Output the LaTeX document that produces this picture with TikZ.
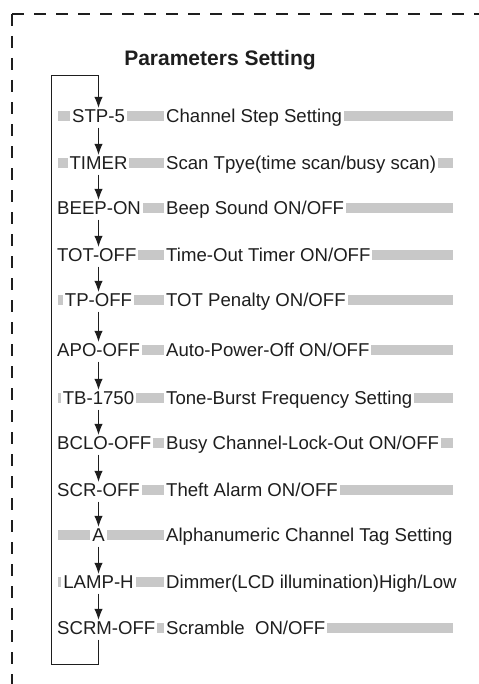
\documentclass[tikz,border=0pt]{standalone}
\usepackage{fontspec}
\setmainfont{Liberation Sans}
\usetikzlibrary{arrows.meta,calc}
\definecolor{ink}{HTML}{1E1E1E}
\definecolor{barg}{HTML}{C8C8C8}
\begin{document}
\begin{tikzpicture}[x=1bp,y=-1bp,
  lbl/.style={fill=white,inner xsep=2bp,inner ysep=1bp,text=ink,
    font=\fontsize{18.6bp}{20bp}\selectfont,text height=13.6bp,text depth=3.8bp},
  flow/.style={draw=ink,line width=1bp,-{Latex[length=11bp,width=8.5bp]}},
  border/.style={draw=ink,line width=2.4bp,dash pattern=on 12bp off 10bp}]
\useasboundingbox (0,0) rectangle (479,684);
% dashed frame
\coordinate (corner) at (12,14);
\coordinate (frameR) at (479,14);
\coordinate (frameB) at (12,684);
\draw[border] (corner) -- (frameR);
\draw[border] (corner) -- (frameB);
% title
\node[font=\bfseries\fontsize{21bp}{24bp}\selectfont,text=ink,anchor=base] (title) at (220,65.5) {Parameters Setting};
% rows
\coordinate (ax) at (98.5,0);
\foreach \i/\y/\lab/\desc/\w in {
  1/116/{STP-5}/{Channel Step Setting}/0,
  2/163/{TIMER}/{Scan Tpye(time scan/busy scan)}/0,
  3/208/{BEEP-ON}/{Beep Sound ON/OFF}/1,
  4/255/{TOT-OFF}/{Time-Out Timer ON/OFF}/1,
  5/300/{TP-OFF}/{TOT Penalty ON/OFF}/0,
  6/350/{APO-OFF}/{Auto-Power-Off ON/OFF}/1,
  7/398/{TB-1750}/{Tone-Burst Frequency Setting}/0,
  8/443/{BCLO-OFF}/{Busy Channel-Lock-Out ON/OFF}/1,
  9/490/{SCR-OFF}/{Theft Alarm ON/OFF}/1,
  10/535/{A}/{Alphanumeric Channel Tag Setting}/0,
  11/582/{LAMP-H}/{Dimmer(LCD illumination)High/Low}/0,
  12/628/{SCRM-OFF}/{Scramble\ \ ON/OFF}/1}{
  \fill[barg] (58,\y-5) rectangle (453,\y+5);
  \ifnum\w=1
    \node[lbl,anchor=base west] (l\i) at (55,\y+6.6) {\lab};
  \else
    \node[lbl,anchor=base] (l\i) at (98.5,\y+6.6) {\lab};
  \fi
  \node[lbl,anchor=base west] (d\i) at (164,\y+6.6) {\desc};
}
% arrows
\foreach \i [evaluate=\i as \j using int(\i+1)] in {1,...,11}
  \draw[flow] (l\i.south -| ax) -- (l\j.north -| ax);
% loop back
\coordinate (tl) at (51,76);
\coordinate (bl) at (51,664);
\draw[flow] (l12.south -| ax) |- (bl) -- (tl) -| (l1.north -| ax);
\end{tikzpicture}
\end{document}
